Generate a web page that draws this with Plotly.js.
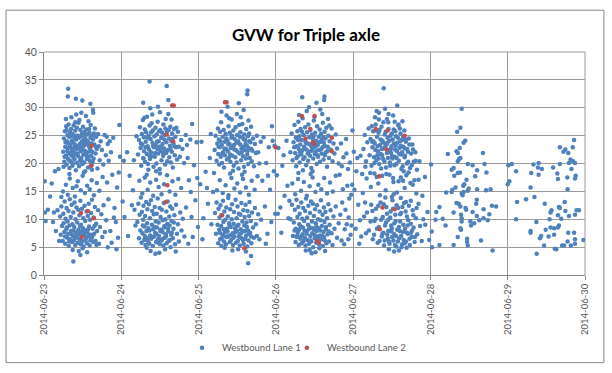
<!DOCTYPE html>
<html>
<head>
<meta charset="utf-8">
<script src="https://cdn.plot.ly/plotly-3.0.1.min.js"></script>
<style>html,body{margin:0;padding:0;background:#fff;}#chart{width:612px;height:373px;}</style>
</head>
<body>
<div id="chart"></div>
<script>
// Each entry: [hour of day, GVW]
var lane1_jun23 = [
[0.2,16.8],[0.3,11.2],[0.5,9.7],[1.9,14.1],[2.4,16.4],[3.1,11.2],[3.4,18.6],[2.8,9.5],[3.7,7.9],[4.7,6.1],[4.2,11.6],[4.5,19.0],[1.2,11.7],
[6.0,22.1],[6.2,24.5],[6.3,20.3],[6.5,25.8],[6.6,23.0],[6.8,21.4],[6.9,26.7],[7.0,19.8],[7.1,24.0],[7.2,22.7],
[7.3,25.1],[7.4,20.9],[7.5,23.6],[7.6,27.0],[7.7,21.8],[7.8,24.8],[7.9,19.2],[8.0,22.9],[8.1,25.6],[8.2,23.3],
[8.3,20.4],[8.4,26.2],[8.5,21.5],[8.6,24.1],[8.7,22.4],[8.8,19.6],[8.9,25.3],[9.0,23.8],[9.1,21.1],[9.2,26.8],
[9.3,22.0],[9.4,24.6],[9.5,20.7],[9.6,23.4],[9.7,25.9],[9.8,21.7],[9.9,18.8],[10.0,24.3],[10.1,22.6],[10.2,26.4],
[10.3,20.1],[10.4,23.1],[10.5,25.0],[10.6,21.3],[10.7,27.3],[10.8,22.8],[10.9,19.5],[11.0,24.7],[11.1,23.5],[11.2,20.6],
[11.3,26.0],[11.4,22.2],[11.5,24.9],[11.6,21.0],[11.7,23.9],[11.8,25.4],[11.9,19.9],[12.0,22.5],[12.1,26.6],[12.2,21.6],
[12.3,24.2],[12.4,23.2],[12.5,20.2],[12.6,25.7],[12.7,22.3],[12.8,18.6],[12.9,24.4],[13.0,21.9],[13.1,26.1],[13.2,23.7],
[13.3,20.8],[13.4,25.2],[13.5,22.0],[13.6,24.0],[13.7,19.3],[13.8,27.6],[13.9,21.2],[14.0,23.0],[14.1,25.5],[14.2,20.5],
[14.3,22.7],[14.4,24.6],[14.5,26.9],[14.6,21.4],[14.7,23.6],[14.8,19.7],[14.9,25.0],[15.0,22.1],[15.2,24.3],[15.4,20.9],
[15.6,23.4],[15.8,26.3],[16.0,21.8],[16.2,24.8],[16.4,22.6],[16.6,19.1],[16.8,25.3],[17.0,23.1],[17.3,20.6],[17.6,24.0],
[18.0,22.4],[18.4,19.8],[18.8,25.1],[19.2,21.5],
[6.4,21.2],[6.7,23.8],[7.3,22.2],[7.8,20.6],[8.2,24.9],[8.6,21.9],[9.0,20.0],[9.4,22.9],[9.9,25.0],[10.4,21.8],[10.8,24.6],[11.2,22.9],[11.7,20.4],[12.2,23.6],[12.6,25.0],[13.1,21.5],[13.6,23.4],[14.0,26.2],[14.5,22.2],[15.1,20.3],[15.5,25.4],[16.1,23.0],[6.1,19.4],[7.0,26.0],[9.7,27.4],[11.0,27.8],[12.4,18.4],[14.9,18.9],
[7.5,33.4],[7.4,32.0],[9.9,31.6],[11.9,31.3],[14.4,30.7],[15.2,29.6],[15.3,29.1],[11.6,29.1],[10.0,28.8],[8.5,28.3],[13.0,28.5],[6.8,28.0],
[5.0,10.5],[5.2,7.2],[5.4,12.3],[5.6,8.8],[5.8,6.1],[6.0,11.0],[6.1,9.3],[6.3,7.7],[6.4,13.2],[6.6,5.6],
[6.7,10.1],[6.9,8.2],[7.0,12.0],[7.2,6.7],[7.3,9.6],[7.5,7.4],[7.6,11.5],[7.7,5.2],[7.9,8.9],[8.0,13.6],
[8.1,6.4],[8.3,10.4],[8.4,7.9],[8.6,12.6],[8.7,5.9],[8.8,9.1],[9.0,7.0],[9.1,11.2],[9.3,6.2],[9.4,8.6],
[9.5,13.0],[9.7,5.4],[9.8,10.0],[9.9,7.5],[10.1,12.1],[10.2,6.8],[10.3,9.4],[10.5,5.8],[10.6,11.7],[10.7,8.1],
[10.9,6.5],[11.0,10.7],[11.1,7.3],[11.3,13.3],[11.4,5.5],[11.5,9.0],[11.7,7.8],[11.8,11.9],[11.9,6.0],[12.1,8.4],
[12.2,10.2],[12.3,5.1],[12.5,7.1],[12.6,12.4],[12.8,9.7],[12.9,6.3],[13.0,8.0],[13.2,11.4],[13.3,5.7],[13.5,7.6],
[13.6,10.6],[13.8,6.9],[13.9,12.8],[14.0,8.7],[14.2,5.3],[14.3,9.9],[14.5,7.2],[14.6,11.1],[14.8,6.6],[14.9,13.5],
[15.1,8.3],[15.3,5.9],[15.4,10.3],[15.6,7.4],[15.8,12.2],[16.0,6.1],[16.2,9.2],[16.5,7.9],[16.8,11.6],[17.1,5.6],
[17.4,8.6],[17.8,10.9],[18.1,6.8],[18.5,12.5],[18.9,7.7],[19.3,9.8],[19.8,5.0],
[6.5,6.9],[7.1,8.5],[7.8,6.0],[8.5,7.3],[9.2,8.0],[9.6,6.6],[10.4,7.7],[11.2,8.8],[11.6,6.3],[12.4,7.5],[13.1,6.7],[13.7,8.2],[14.4,6.2],[15.0,7.0],[15.7,8.8],[16.3,5.4],[8.9,4.5],[10.8,4.3],[12.0,4.8],[13.4,4.1],[11.3,3.6],[9.1,2.4],
[5.9,15.0],[6.8,16.2],[7.4,14.4],[8.0,17.3],[8.9,15.6],[9.6,14.1],[10.5,16.8],[11.4,15.2],[12.0,17.8],[12.7,14.7],[13.4,16.0],[14.2,15.4],[14.8,17.0],[15.5,14.3],[16.4,16.5],[17.2,15.1],[18.2,17.6],[5.4,14.0],[7.9,18.1],[10.1,15.9],
[19.5,24.8],[19.8,23.5],[20.1,20.5],[20.4,24.0],[20.8,22.0],[21.2,18.0],[21.5,24.6],[21.9,12.0],[22.3,9.5],[22.7,15.7],[23.0,6.7],[23.4,26.9],[23.6,21.2],[20.0,13.6],[20.6,7.9],[21.7,10.3],[22.5,4.6],[19.6,16.6],[23.2,18.4],[21.0,5.8]
];
var lane1_jun24 = [
[0.4,13.2],[1.0,10.4],[1.8,22.0],[2.6,17.8],[3.3,12.5],[3.9,20.6],[4.4,8.9],[4.7,24.9],[2.1,7.0],[3.6,15.2],[0.8,20.5],[4.1,11.7],
[5.2,21.6],[5.5,24.2],[5.8,26.5],[6.0,22.8],[6.2,19.6],[6.4,25.3],[6.5,23.4],[6.7,27.8],[6.8,21.0],[7.0,24.7],
[7.1,22.2],[7.3,26.1],[7.4,20.3],[7.6,23.9],[7.7,25.6],[7.9,21.7],[8.0,28.4],[8.2,23.1],[8.3,19.9],[8.5,25.0],
[8.6,22.5],[8.8,26.8],[8.9,20.8],[9.1,24.4],[9.2,22.0],[9.4,27.2],[9.5,21.3],[9.7,23.7],[9.8,25.9],[10.0,19.4],
[10.1,22.9],[10.3,24.9],[10.4,21.2],[10.6,26.4],[10.7,23.3],[10.9,20.0],[11.0,25.2],[11.2,22.6],[11.3,27.5],[11.5,21.8],
[11.6,24.0],[11.8,23.0],[11.9,19.0],[12.1,26.0],[12.2,22.3],[12.4,24.6],[12.5,20.6],[12.7,25.5],[12.8,23.5],[13.0,21.4],
[13.1,27.0],[13.3,22.7],[13.4,24.3],[13.6,19.8],[13.7,26.3],[13.9,21.9],[14.0,23.8],[14.2,25.8],[14.3,20.4],[14.5,22.4],
[14.6,28.9],[14.8,24.5],[14.9,21.1],[15.1,23.2],[15.2,26.6],[15.4,20.2],[15.5,24.1],[15.7,22.1],[15.8,25.4],[16.0,19.3],
[16.2,23.6],[16.4,26.2],[16.6,21.5],[16.8,24.8],[17.0,22.9],[17.3,20.7],[17.6,25.7],[17.9,23.0],[18.2,21.2],[18.6,24.2],
[19.0,22.6],[19.5,20.1],[20.0,25.1],[20.4,23.3],
[6.1,23.6],[6.9,20.9],[7.5,22.9],[8.1,24.6],[8.7,21.4],[9.3,25.6],[9.9,23.2],[10.5,21.9],[11.1,23.9],[11.7,25.8],[12.3,23.0],[12.9,22.0],[13.5,25.1],[14.1,22.2],[14.7,26.0],[15.3,22.6],[15.9,24.4],[16.5,23.1],[17.1,26.4],[7.2,28.2],[9.6,28.8],[12.0,29.2],[13.8,28.0],[15.6,27.9],[10.8,18.6],[8.4,18.9],
[8.8,34.7],[14.1,33.9],[14.6,31.4],[6.8,30.9],[11.4,30.2],[9.0,29.9],
[5.0,9.5],[5.3,12.8],[5.5,6.6],[5.7,10.8],[5.9,8.0],[6.1,13.9],[6.3,5.8],[6.4,11.3],[6.6,7.5],[6.8,9.9],
[6.9,12.4],[7.1,6.3],[7.2,8.7],[7.4,10.6],[7.5,5.4],[7.7,13.1],[7.8,7.9],[8.0,9.3],[8.1,11.8],[8.3,6.0],
[8.4,8.4],[8.6,12.7],[8.7,5.6],[8.9,10.2],[9.0,7.1],[9.2,13.4],[9.3,6.5],[9.5,9.0],[9.6,11.5],[9.8,5.2],
[9.9,8.2],[10.1,10.9],[10.2,6.9],[10.4,12.2],[10.5,7.6],[10.7,9.6],[10.8,5.9],[11.0,11.0],[11.1,8.5],[11.3,13.7],
[11.4,6.4],[11.6,9.4],[11.7,7.0],[11.9,12.0],[12.0,5.5],[12.2,10.4],[12.3,8.1],[12.5,6.2],[12.6,11.7],[12.8,7.7],
[12.9,9.8],[13.1,5.3],[13.2,12.9],[13.4,8.8],[13.5,6.7],[13.7,10.0],[13.8,7.3],[14.0,11.4],[14.1,5.7],[14.3,9.2],
[14.4,13.2],[14.6,7.8],[14.7,6.1],[14.9,10.5],[15.0,8.9],[15.2,12.3],[15.3,5.0],[15.5,7.2],[15.6,9.7],[15.8,11.9],
[16.0,6.6],[16.2,8.3],[16.5,10.7],[16.7,5.5],[17.0,12.6],[17.3,7.4],[17.6,9.1],[17.9,6.0],[18.3,11.2],[18.7,8.0],
[19.1,10.1],[19.6,6.9],[20.1,12.1],
[6.7,8.9],[7.3,7.0],[8.2,6.6],[8.8,8.0],[9.7,6.8],[10.3,8.6],[10.9,7.4],[11.5,5.8],[12.1,7.9],[12.7,6.4],[13.3,8.5],[13.9,6.9],[14.5,8.4],[15.1,6.3],[15.7,7.6],[16.3,9.4],[9.1,4.3],[11.8,4.0],[13.6,4.6],[16.9,4.2],[10.6,3.8],[7.9,4.9],
[5.6,16.9],[6.5,14.6],[7.3,17.5],[8.2,15.3],[9.0,16.6],[9.9,14.2],[10.8,17.1],[11.6,15.8],[12.5,14.5],[13.3,16.3],[14.2,17.9],[15.0,15.0],[15.9,16.8],[16.8,14.4],[17.7,17.2],[18.6,15.6],[12.0,18.2],[7.9,18.0],
[20.6,21.0],[21.0,17.0],[21.4,24.3],[21.8,10.4],[22.2,6.8],[22.6,19.7],[23.0,13.4],[23.4,23.8],[23.8,8.6],[20.8,5.6],[22.0,27.1],[21.6,14.9],[23.6,17.4]
];
var lane1_jun25 = [
[0.5,16.3],[0.9,23.9],[1.5,10.2],[2.2,18.5],[2.9,12.8],[3.5,21.0],[4.0,9.1],[4.5,14.9],[1.2,6.4],[3.8,25.3],[2.6,15.6],[4.8,18.3],
[5.0,22.4],[5.3,25.0],[5.6,20.5],[5.8,23.6],[6.0,26.3],[6.1,21.7],[6.3,24.3],[6.4,19.8],[6.6,22.9],[6.7,25.7],
[6.9,21.2],[7.0,27.4],[7.2,23.3],[7.3,20.1],[7.5,24.8],[7.6,22.0],[7.8,26.0],[7.9,19.3],[8.1,23.9],[8.2,21.5],
[8.4,25.3],[8.5,22.6],[8.7,28.6],[8.8,20.7],[9.0,24.1],[9.1,22.2],[9.3,26.7],[9.4,21.0],[9.6,23.5],[9.7,25.5],
[9.9,20.3],[10.0,22.8],[10.2,24.6],[10.3,27.9],[10.5,21.4],[10.6,23.1],[10.8,25.9],[10.9,19.6],[11.1,22.5],[11.2,24.4],
[11.4,21.1],[11.5,26.5],[11.7,23.7],[11.8,20.2],[12.0,25.1],[12.1,22.1],[12.3,24.0],[12.4,19.1],[12.6,26.9],[12.7,21.8],
[12.9,23.4],[13.0,25.6],[13.2,20.6],[13.3,22.7],[13.5,24.7],[13.6,27.1],[13.8,21.3],[13.9,23.0],[14.1,19.4],[14.2,25.2],
[14.4,22.4],[14.5,24.2],[14.7,20.9],[14.8,26.2],[15.0,23.2],[15.1,21.6],[15.3,24.9],[15.4,19.9],[15.6,22.8],[15.7,25.4],
[15.9,21.0],[16.1,23.8],[16.3,26.6],[16.5,20.4],[16.7,22.3],[16.9,24.5],[17.2,19.5],[17.5,23.5],[17.8,21.9],[18.1,25.0],
[18.5,22.0],[18.9,20.0],[19.3,23.9],
[6.2,23.0],[6.8,24.0],[7.4,21.8],[8.0,22.7],[8.6,24.5],[9.2,23.4],[9.8,21.6],[10.4,25.0],[11.0,23.3],[11.6,22.4],[12.2,23.8],[12.8,24.8],[13.4,22.0],[14.0,24.4],[14.6,23.5],[15.2,22.2],[15.8,24.0],[16.4,22.6],[7.1,29.3],[9.5,28.1],[11.9,28.9],[13.1,28.3],[15.5,27.7],[10.7,18.7],[14.3,18.5],
[15.2,33.1],[15.1,32.4],[9.0,30.2],[12.5,30.8],[14.0,29.6],
[5.1,11.1],[5.4,7.4],[5.6,13.0],[5.9,9.0],[6.1,5.7],[6.2,11.9],[6.4,8.1],[6.5,10.3],[6.7,6.4],[6.8,12.5],
[7.0,8.8],[7.1,5.2],[7.3,10.7],[7.4,7.2],[7.6,13.3],[7.7,9.5],[7.9,6.0],[8.0,11.4],[8.2,7.7],[8.3,9.9],
[8.5,5.5],[8.6,12.1],[8.8,8.3],[8.9,6.8],[9.1,10.5],[9.2,13.8],[9.4,7.0],[9.5,9.3],[9.7,5.9],[9.8,11.8],
[10.0,8.6],[10.1,6.3],[10.3,10.0],[10.4,12.7],[10.6,7.5],[10.7,5.4],[10.9,9.2],[11.0,11.3],[11.2,6.9],[11.3,8.4],
[11.5,13.5],[11.6,5.8],[11.8,10.2],[11.9,7.9],[12.1,12.3],[12.2,6.1],[12.4,9.0],[12.5,11.0],[12.7,7.3],[12.8,5.3],
[13.0,10.8],[13.1,8.2],[13.3,12.9],[13.4,6.6],[13.6,9.6],[13.7,7.8],[13.9,11.6],[14.0,5.6],[14.2,8.9],[14.3,10.4],
[14.5,6.5],[14.6,12.6],[14.8,7.1],[14.9,9.4],[15.1,5.1],[15.2,11.5],[15.4,8.0],[15.5,6.2],[15.7,10.6],[15.8,13.1],
[16.0,7.6],[16.2,9.7],[16.4,5.7],[16.6,11.2],[16.9,8.5],[17.2,6.7],[17.5,12.0],[17.8,9.1],[18.1,7.0],[18.5,10.9],
[18.9,6.4],[19.4,9.9],
[6.6,7.6],[7.2,6.6],[7.8,8.2],[8.4,6.9],[9.0,7.8],[9.6,8.9],[10.2,7.2],[10.8,6.7],[11.4,7.7],[12.0,8.8],[12.6,6.8],[13.2,7.5],[13.8,6.3],[14.4,7.9],[15.0,8.6],[15.6,7.4],[16.3,6.9],[12.3,4.6],[14.7,4.2],[15.4,2.1],[16.3,3.4],[10.5,4.4],[8.1,4.9],
[5.7,15.2],[6.6,17.0],[7.5,14.7],[8.4,16.1],[9.3,14.3],[10.2,17.4],[11.1,15.5],[12.0,16.4],[12.9,14.8],[13.8,17.2],[14.7,15.7],[15.6,14.4],[16.5,16.9],[17.4,15.3],[18.3,17.7],[9.8,18.2],[13.5,18.0],
[19.8,16.9],[20.2,24.7],[20.6,12.3],[21.0,20.1],[21.4,7.4],[21.8,22.9],[22.2,15.3],[22.6,9.5],[23.0,24.1],[23.4,18.6],[23.8,11.0],[20.9,5.6],[22.8,26.7],[21.6,17.8],[23.6,23.2]
];
var lane1_jun26 = [
[0.3,17.9],[0.8,22.8],[1.4,12.1],[2.0,19.6],[2.7,14.2],[3.3,24.1],[3.9,10.2],[1.7,7.6],[2.4,21.5],[3.6,16.0],[4.2,13.3],[0.6,11.0],
[4.5,22.0],[4.9,25.4],[5.2,20.6],[5.5,23.8],[5.8,26.9],[6.0,21.9],[6.2,24.6],[6.3,19.5],[6.5,23.1],[6.7,25.8],
[6.8,21.3],[7.0,27.5],[7.1,22.6],[7.3,24.9],[7.4,20.2],[7.6,23.4],[7.7,26.2],[7.9,21.6],[8.0,24.2],[8.2,22.3],
[8.3,28.1],[8.5,20.8],[8.6,25.1],[8.8,23.0],[8.9,21.1],[9.1,26.5],[9.2,24.0],[9.4,19.7],[9.5,22.5],[9.7,25.6],
[9.8,23.6],[10.0,20.5],[10.1,27.0],[10.3,22.1],[10.4,24.7],[10.6,21.4],[10.7,26.0],[10.9,23.2],[11.0,19.2],[11.2,25.2],
[11.3,22.8],[11.5,24.4],[11.6,20.9],[11.8,27.7],[11.9,23.5],[12.1,21.7],[12.2,25.5],[12.4,22.2],[12.5,24.1],[12.7,19.9],
[12.8,26.7],[13.0,23.3],[13.1,21.2],[13.3,24.8],[13.4,22.4],[13.6,26.1],[13.7,20.3],[13.9,23.9],[14.0,25.3],[14.2,21.8],
[14.3,24.3],[14.5,22.9],[14.6,27.3],[14.8,20.7],[14.9,23.7],[15.1,25.7],[15.2,21.5],[15.4,24.5],[15.5,22.0],[15.7,26.4],
[15.9,19.4],[16.1,23.0],[16.3,25.0],[16.5,21.0],[16.7,24.0],[17.0,22.5],[17.3,26.3],[17.6,20.4],[17.9,23.6],[18.2,21.8],
[18.6,25.2],[19.0,22.7],[19.5,20.0],
[5.7,22.9],[6.4,21.0],[6.9,24.2],[7.5,22.0],[8.1,25.7],[8.7,22.7],[9.3,23.7],[9.9,21.8],[10.5,23.5],[11.1,22.3],[11.7,24.9],[12.3,23.0],[12.9,21.5],[13.5,23.8],[14.1,22.6],[14.7,24.7],[15.3,23.1],[16.0,22.2],[16.6,26.8],[7.2,28.7],[9.6,29.4],[12.0,28.4],[14.4,28.9],[16.2,28.0],[11.4,18.6],[8.4,18.8],
[8.2,31.9],[15.1,32.0],[15.0,31.4],[12.6,30.9],[10.3,30.1],[13.8,29.7],
[4.6,10.0],[5.0,12.6],[5.3,7.0],[5.6,9.4],[5.9,11.7],[6.1,5.9],[6.2,8.3],[6.4,13.5],[6.5,6.8],[6.7,10.4],
[6.8,7.6],[7.0,12.2],[7.1,5.4],[7.3,9.1],[7.4,11.0],[7.6,6.5],[7.7,8.7],[7.9,13.0],[8.0,5.7],[8.2,10.1],
[8.3,7.3],[8.5,12.0],[8.6,6.1],[8.8,9.7],[8.9,8.0],[9.1,11.5],[9.2,5.3],[9.4,13.7],[9.5,7.8],[9.7,10.3],
[9.8,6.3],[10.0,9.0],[10.1,12.4],[10.3,5.6],[10.4,8.6],[10.6,11.1],[10.7,7.0],[10.9,13.2],[11.0,6.0],[11.2,9.6],
[11.3,7.5],[11.5,12.8],[11.6,5.0],[11.8,10.6],[11.9,8.1],[12.1,6.6],[12.2,11.8],[12.4,9.3],[12.5,5.8],[12.7,7.9],
[12.8,12.5],[13.0,6.9],[13.1,10.0],[13.3,8.4],[13.4,5.5],[13.6,11.4],[13.7,7.1],[13.9,9.8],[14.0,13.4],[14.2,6.4],
[14.3,8.8],[14.5,10.8],[14.6,5.2],[14.8,7.7],[14.9,12.1],[15.1,9.5],[15.2,6.2],[15.4,11.3],[15.5,8.2],[15.7,5.7],
[15.9,10.2],[16.1,7.3],[16.3,12.7],[16.5,6.0],[16.7,9.0],[17.0,11.6],[17.3,7.5],[17.6,5.4],[17.9,10.5],[18.2,8.3],
[18.6,12.3],[19.0,6.7],[19.5,9.3],
[5.8,8.0],[6.6,7.0],[7.2,8.1],[7.8,6.9],[8.4,8.5],[9.0,6.7],[9.6,7.4],[10.2,8.2],[10.8,6.2],[11.4,8.4],[12.0,7.2],[12.6,8.7],[13.2,6.5],[13.8,8.0],[14.4,7.0],[15.0,6.8],[15.6,8.6],[16.4,7.8],[10.5,4.5],[12.3,4.1],[13.5,4.8],[9.3,4.4],[15.3,4.3],[11.1,3.9],
[5.1,16.4],[6.0,14.5],[6.9,17.2],[7.8,15.1],[8.7,16.7],[9.6,14.2],[10.5,15.9],[11.4,17.5],[12.3,14.9],[13.2,16.2],[14.1,15.4],[15.0,17.4],[15.9,14.6],[16.8,16.6],[17.7,15.0],[18.6,17.8],[10.8,18.1],[7.0,18.3],
[19.8,18.0],[20.2,23.6],[20.6,13.0],[21.0,21.1],[21.4,8.2],[21.8,24.4],[22.2,16.0],[22.6,10.3],[23.0,20.2],[23.4,14.4],[23.8,25.9],[20.4,6.2],[22.4,19.0],[21.6,11.7],[23.2,7.2],
[20.0,10.8],[20.8,15.4],[21.2,5.5],[22.0,9.1],[22.8,13.7],[23.5,8.9],[20.5,19.5],[21.9,21.8],[23.7,16.2],[22.5,6.4]
];
var lane1_jun27 = [
[0.4,15.3],[1.3,21.0],[2.1,9.8],[2.8,18.1],
[0.8,8.3],[1.6,12.6],[2.5,6.9],[3.0,14.7],[3.4,10.5],[3.8,19.4],[1.0,18.6],[2.3,21.4],[4.0,7.5],[0.2,22.1],[1.9,5.6],[3.7,13.0],
[3.2,22.6],[3.6,25.1],[4.0,20.4],[4.4,23.8],[4.8,26.3],[5.1,21.5],[5.4,24.4],[5.7,19.6],[6.0,22.9],[6.2,25.8],
[6.5,21.1],[6.7,23.6],[7.0,27.0],[7.2,20.6],[7.4,24.8],[7.7,22.2],[7.9,25.5],[8.1,19.9],[8.4,23.3],[8.6,21.7],
[8.8,26.6],[9.1,24.1],[9.3,20.8],[9.5,22.7],[9.8,25.2],[10.0,23.5],[10.2,19.3],[10.5,21.9],[10.7,24.6],[10.9,27.4],
[11.2,22.4],[11.4,20.2],[11.6,25.0],[11.9,23.1],[12.1,21.3],[12.3,24.3],[12.6,26.1],[12.8,19.7],[13.0,22.5],[13.3,24.9],
[13.5,21.0],[13.7,23.7],[14.0,26.8],[14.2,20.5],[14.4,22.8],[14.7,25.4],[14.9,21.6],[15.1,24.2],[15.4,19.5],[15.6,23.0],
[15.9,25.9],[16.1,21.4],[16.4,23.9],[16.7,20.0],[17.0,22.1],[17.3,24.5],[17.7,19.2],[18.0,21.8],[18.4,23.4],[18.8,20.3],
[19.3,22.0],[19.8,18.9],
[5.9,23.9],[7.5,21.5],[8.9,22.6],[10.4,23.4],[11.8,21.9],[13.2,23.2],[14.6,24.0],[16.0,22.7],[6.8,28.3],[9.9,29.8],[12.4,28.6],[15.3,27.6],
[9.5,33.5],[13.7,30.4],[8.0,29.1],[11.0,28.9],
[5.3,18.3],[5.8,26.7],[6.3,24.0],[6.6,20.1],[6.9,22.4],[7.1,25.9],[7.3,17.6],[7.6,23.1],[7.9,20.9],[8.2,26.0],
[8.5,24.3],[8.7,19.1],[9.0,21.5],[9.2,23.8],[9.4,27.4],[9.7,20.4],[9.9,22.9],[10.1,25.7],[10.3,18.1],[10.6,23.7],
[10.8,21.0],[11.0,26.2],[11.3,24.1],[11.5,19.6],[11.7,22.6],[12.0,25.4],[12.2,20.9],[12.4,17.4],[12.7,23.6],[12.9,21.2],
[13.1,25.8],[13.4,19.9],[13.6,22.2],[13.9,24.6],[14.1,16.8],[14.3,21.7],[14.5,26.3],[14.8,23.2],[15.0,19.0],[15.2,22.0],
[15.5,24.8],[15.7,18.6],[16.0,21.1],[16.2,24.3],[16.5,17.9],[16.8,22.6],[17.1,20.3],[17.5,23.4],[17.8,16.5],[18.2,19.7],
[18.6,22.5],[19.0,17.0],[19.4,20.5],[8.0,27.9],[10.5,28.0],[12.9,27.5],[7.3,29.4],[14.1,27.0],
[4.2,17.3],[5.5,15.8],[6.6,18.2],[7.8,16.4],[9.0,17.8],[10.1,15.2],[11.3,18.0],[12.5,16.7],[13.6,14.8],[14.8,17.5],[16.0,15.6],[17.2,18.4],[18.5,16.2],[19.6,14.6],[20.3,17.1],[8.3,14.3],[12.0,14.0],[15.5,16.9],
[4.3,11.2],[4.9,8.0],[5.6,12.6],[6.1,6.4],[6.6,9.7],[7.1,11.9],[7.6,5.8],[8.0,8.6],[8.5,13.0],[8.9,6.9],
[9.2,10.4],[9.6,5.3],[9.9,8.9],[10.3,12.2],[10.6,7.2],[10.9,9.9],[11.3,5.6],[11.6,11.4],[11.9,7.8],[12.2,13.4],
[12.5,6.2],[12.8,9.3],[13.1,10.8],[13.4,5.1],[13.7,8.1],[14.0,12.0],[14.3,6.6],[14.6,9.6],[14.9,11.1],[15.2,5.5],
[15.5,7.7],[15.8,12.9],[16.1,8.3],[16.4,6.0],[16.7,10.5],[17.0,7.4],[17.3,12.4],[17.6,5.4],[17.9,9.2],[18.2,6.8],
[18.5,11.6],[18.8,8.5],[19.1,5.9],[19.5,10.2],[19.9,7.3],[20.3,12.8],[20.8,8.8],[21.3,6.1],[21.8,10.0],[22.4,9.0],
[9.4,7.6],[10.8,6.5],[12.0,8.4],[13.3,7.0],[14.5,7.9],[15.7,6.3],[16.9,8.9],[18.0,7.6],[11.1,4.6],[14.2,4.4],[16.6,4.9],[12.7,4.2],
[5.4,9.6],[6.0,11.5],[6.5,7.2],[7.0,10.1],[7.4,8.3],[7.8,12.4],[8.2,6.1],[8.7,9.9],[9.1,7.4],[9.5,12.7],
[9.8,6.2],[10.2,9.4],[10.5,11.0],[10.9,7.9],[11.2,5.9],[11.5,10.3],[11.8,8.9],[12.1,6.8],[12.4,11.9],[12.8,7.3],
[13.2,9.7],[13.5,12.5],[13.9,6.0],[14.2,8.6],[14.6,10.9],[14.9,7.0],[15.3,12.2],[15.6,9.0],[16.0,5.7],[16.3,11.4],
[16.7,7.6],[17.1,9.8],[17.5,6.5],[17.9,13.3],[18.3,8.0],[18.7,10.7],[19.2,6.8],[19.7,12.0],[14.8,13.8],[12.6,14.5],
[10.0,13.9],[16.4,13.1],[13.0,5.4],[15.0,5.0],
[20.6,20.4],[21.5,14.2],[22.3,17.6],[23.1,11.3],[23.6,6.3]
];
var lane1_jun28 = [
[9.7,29.8],[9.3,26.4],[8.3,25.7],[10.8,24.1],[10.3,23.7],[9.1,22.8],[8.1,22.2],[8.5,21.9],[5.4,21.7],[16.3,21.9],
[9.3,21.0],[8.9,20.8],[8.5,20.4],[0.2,19.8],[11.6,19.9],[13.1,19.7],[16.8,19.9],[7.2,19.2],[6.6,18.9],[14.5,18.8],
[9.2,18.4],[8.5,18.3],[17.4,18.4],[7.4,17.8],[13.9,17.7],[11.2,17.1],[10.5,16.3],[10.2,16.0],[7.8,15.7],[6.8,15.3],
[11.9,15.5],[14.5,15.4],[18.7,15.4],[17.3,15.2],[4.9,14.8],[6.6,14.9],[9.7,14.6],[10.3,14.9],[11.6,15.1],[10.0,14.3],
[8.1,12.9],[8.8,12.8],[14.4,13.5],[9.3,12.3],[10.9,12.0],[11.1,11.7],[2.8,12.2],[16.5,11.8],[19.1,12.4],[20.4,12.3],
[14.2,12.8],[1.8,11.3],[7.2,11.2],[9.5,10.8],[13.1,11.3],[14.4,10.6],[18.3,10.9],[3.8,10.1],[1.6,9.9],[9.7,10.2],
[9.7,9.6],[12.4,9.6],[13.6,9.3],[15.2,9.8],[16.5,10.2],[17.8,9.8],[4.7,8.9],[9.3,8.4],[9.5,8.1],[12.6,8.9],
[0.4,7.8],[8.5,6.8],[11.4,6.5],[11.4,5.9],[11.6,5.3],[2.8,5.4],[0.5,5.0],[7.2,5.4],[15.7,6.2],[19.3,4.4]
];
var lane1_jun29 = [
[20.6,24.2],[16.2,22.9],[17.9,22.5],[17.3,22.1],[18.8,21.9],[20.2,22.9],[19.5,20.7],[20.3,20.4],[20.9,20.1],[19.0,20.1],
[0.2,19.7],[1.3,19.9],[8.0,19.8],[9.6,20.1],[9.4,19.3],[10.6,19.0],[14.1,19.3],[16.2,19.9],[2.6,18.6],[7.3,18.3],
[9.6,18.0],[15.4,18.2],[19.8,19.0],[21.1,17.8],[20.9,17.3],[18.5,17.5],[15.6,17.2],[0.5,16.8],[0.0,16.3],[7.1,15.7],
[18.6,15.4],[8.3,14.0],[5.7,13.6],[2.9,13.1],[11.5,12.8],[17.7,13.1],[15.9,12.2],[16.2,12.0],[13.6,11.6],[13.3,11.2],
[17.9,11.5],[21.4,11.6],[22.1,11.6],[15.6,10.7],[19.0,10.6],[16.6,10.1],[20.9,10.8],[2.6,10.0],[13.0,10.0],[8.9,9.5],
[15.9,8.9],[15.6,8.5],[13.3,8.5],[14.4,8.4],[11.8,8.1],[7.1,7.9],[7.1,7.6],[18.8,7.6],[20.6,7.6],[10.4,7.0],
[10.0,6.6],[12.7,6.9],[14.4,7.2],[18.6,6.0],[20.9,6.4],[23.5,6.3],[11.3,5.3],[14.6,4.7],[15.1,4.6],[16.9,5.3],
[17.5,5.3],[19.6,5.3],[20.9,5.6],[9.0,3.8]
];
// Westbound Lane 2: [day offset from 2014-06-23, hour, GVW]
var lane2_points = [
[0,14.8,23.2],[0,14.6,19.6],[0,11.5,11.1],[0,13.6,11.5],[0,15.5,10.2],[0,11.7,6.8],
[1,15.8,30.4],[1,16.3,30.4],[1,14.1,25.2],[1,16.1,24.0],[1,14.3,16.1],[1,13.8,13.1],
[2,8.2,31.0],[2,8.7,31.0],[2,7.1,10.7],[2,14.2,4.8],[2,23.9,22.9],
[3,8.1,28.5],[3,12.0,28.5],[3,10.7,26.2],[3,9.2,24.5],[3,11.5,23.8],[3,11.8,23.6],[3,17.4,24.6],[3,17.4,22.2],[3,13.4,5.8],[3,12.8,6.1],
[4,7.0,26.2],[4,10.7,25.9],[4,10.4,22.5],[4,8.1,17.7],[4,9.1,12.1],[4,12.9,11.8],[4,8.3,8.2],[4,16.0,25.0]
];
var tickDates = ['2014-06-23','2014-06-24','2014-06-25','2014-06-26','2014-06-27','2014-06-28','2014-06-29','2014-06-30'];

var base = Date.UTC(2014, 5, 23);
var DAY = 86400000, HOUR = 3600000;
var lane1Days = [lane1_jun23, lane1_jun24, lane1_jun25, lane1_jun26, lane1_jun27, lane1_jun28, lane1_jun29];
var x1 = [], y1 = [];
lane1Days.forEach(function (pts, d) {
  pts.forEach(function (p) { x1.push(base + d * DAY + p[0] * HOUR); y1.push(p[1]); });
});
var x2 = lane2_points.map(function (p) { return base + p[0] * DAY + p[1] * HOUR; });
var y2 = lane2_points.map(function (p) { return p[2]; });

var traces = [
  {x: x1, y: y1, type: 'scatter', mode: 'markers', name: 'Westbound Lane 1', legend: 'legend',
   marker: {color: '#4F81BD', size: 4.5, line: {width: 0}}},
  {x: x2, y: y2, type: 'scatter', mode: 'markers', name: 'Westbound Lane 2', legend: 'legend2',
   marker: {color: '#C0504D', size: 4.5, line: {width: 0}}}
];

var legendFont = {family: 'Lato, Arial, sans-serif', size: 9.5, color: '#595959'};
var gridCol = '#9a9a9a';
var layout = {
  width: 612, height: 373,
  margin: {l: 44, r: 27, t: 52, b: 97},
  paper_bgcolor: '#ffffff', plot_bgcolor: '#ffffff',
  font: {family: 'Lato, Arial, sans-serif', size: 10, color: '#595959'},
  title: {text: '<b>GVW for Triple axle</b>', font: {family: 'Lato, Arial, sans-serif', size: 17, color: '#000000'},
          x: 0.5, xanchor: 'center', y: 0.905, yanchor: 'middle', yref: 'container'},
  showlegend: true,
  legend: {orientation: 'h', x: 0.2551, xanchor: 'left', y: -0.32, yanchor: 'middle',
           bgcolor: 'rgba(0,0,0,0)', font: legendFont, itemwidth: 30},
  legend2: {orientation: 'h', x: 0.449, xanchor: 'left', y: -0.32, yanchor: 'middle',
            bgcolor: 'rgba(0,0,0,0)', font: legendFont, itemwidth: 30},
  xaxis: {type: 'date', range: [tickDates[0], tickDates[tickDates.length - 1]],
          tickvals: tickDates, ticktext: tickDates, tickangle: -90,
          showgrid: true, gridcolor: gridCol, gridwidth: 1,
          showline: true, linecolor: '#868686', linewidth: 1,
          ticks: 'outside', ticklen: 4, tickcolor: '#868686', zeroline: false,
          tickfont: {family: 'Lato, Arial, sans-serif', size: 9.5, color: '#595959'}},
  yaxis: {range: [0, 40], dtick: 5, tick0: 0,
          showgrid: true, gridcolor: gridCol, gridwidth: 1,
          showline: true, linecolor: '#868686', linewidth: 1,
          ticks: 'outside', ticklen: 4, tickcolor: '#868686', zeroline: false,
          tickfont: {family: 'Lato, Arial, sans-serif', size: 10.5, color: '#595959'}},
  shapes: [
    {type: 'rect', xref: 'paper', yref: 'paper', x0: -0.0702, x1: 1.035, y0: -0.393, y1: 1.1875,
     line: {color: '#868686', width: 1}, fillcolor: 'rgba(0,0,0,0)', layer: 'below'},
    {type: 'line', xref: 'paper', yref: 'paper', x0: 1, x1: 1, y0: 0, y1: 1,
     line: {color: gridCol, width: 1}, layer: 'below'},
    {type: 'line', xref: 'paper', yref: 'paper', x0: 0, x1: 1, y0: 1, y1: 1,
     line: {color: gridCol, width: 1}, layer: 'below'}
  ]
};

Plotly.newPlot('chart', traces, layout, {staticPlot: true, displayModeBar: false});
</script>
</body>
</html>
